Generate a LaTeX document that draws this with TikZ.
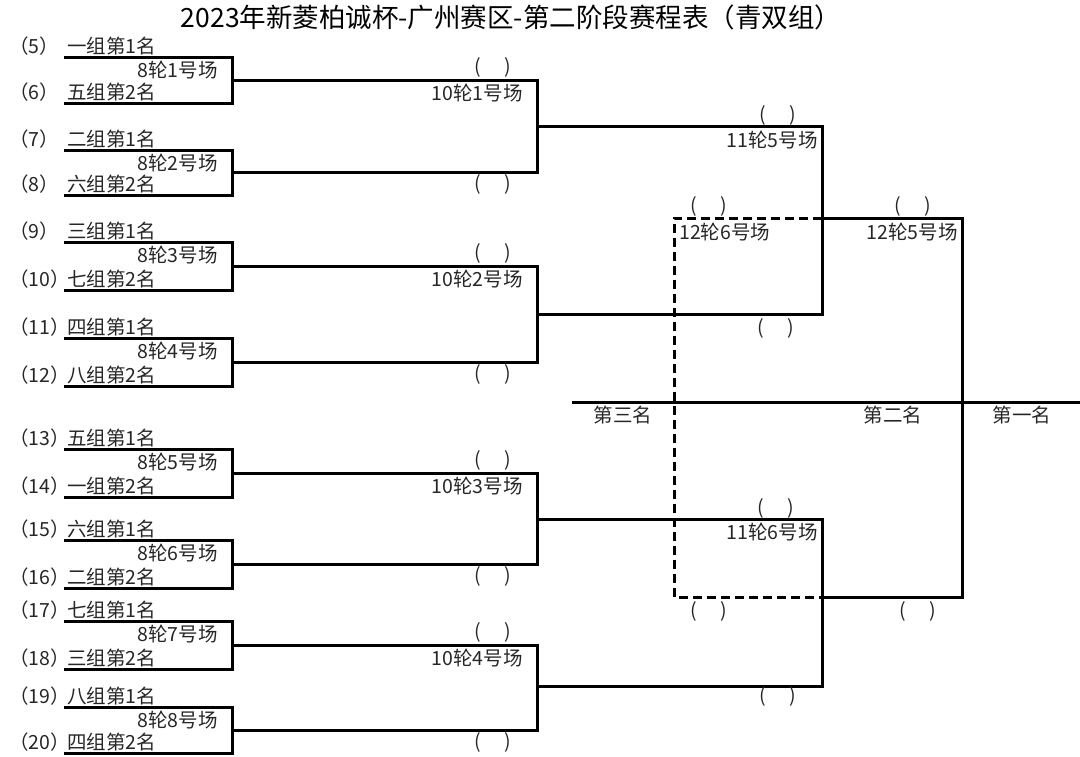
\documentclass[tikz,border=0pt]{standalone}
\usepackage{fontspec}
\setmainfont{Noto Sans CJK SC}
\begin{document}
\begin{tikzpicture}[x=1pt,y=-1pt,
  br/.style={line width=3pt,line join=miter,line cap=rect},
  dsh/.style={line width=3pt,dash pattern=on 9pt off 5pt},
  lab/.style={inner sep=0pt,font=\fontsize{19.5}{20}\selectfont,text=black!85},
  seedlab/.style={lab,anchor=west},
  namelab/.style={lab,anchor=west},
  par/.style={lab}]
\useasboundingbox (0,0) rectangle (1080,756);
\node[inner sep=0pt,font=\fontsize{26.5}{27}\selectfont] (title) at (511,17) {2023年新菱柏诚杯-广州赛区-第二阶段赛程表（青双组）};
% round 8 brackets
\foreach \i/\yt/\yb/\sa/\na/\sb/\nb in {
 1/57/103/5/一组第1名/6/五组第2名,
 2/150/195/7/二组第1名/8/六组第2名,
 3/242/290/9/三组第1名/10/七组第2名,
 4/338/386/11/四组第1名/12/八组第2名,
 5/449/497/13/五组第1名/14/一组第2名,
 6/540/588/15/六组第1名/16/二组第2名,
 7/621/669/17/七组第1名/18/三组第2名,
 8/707/753/19/八组第1名/20/四组第2名}{
  \coordinate (pa\i) at (65,\yt);
  \coordinate (pb\i) at (65,\yb);
  \coordinate (pc\i) at (232,\yt);
  \coordinate (pd\i) at (232,\yb);
  \draw[br] (pa\i) -- (pc\i) -- (pd\i) -- (pb\i);
  \node[seedlab] (s\sa) at (9,\yt-11) {（{\sa}）};
  \node[namelab] (n\sa) at (67,\yt-11) {\na};
  \node[seedlab] (s\sb) at (9,\yb-11) {（{\sb}）};
  \node[namelab] (n\sb) at (67,\yb-11) {\nb};
  \node[lab,anchor=east] (g8\i) at (218,\yt+13) {8轮{\i}号场};
}
% round 10
\foreach \j/\ya/\yb in {1/80/172,2/266/362,3/473/564,4/645/730}{
  \coordinate (ma\j) at (232,\ya);
  \coordinate (mb\j) at (232,\yb);
  \coordinate (ra\j) at (537,\ya);
  \coordinate (rb\j) at (537,\yb);
  \draw[br] (ma\j) -- (ra\j) -- (rb\j) -- (mb\j);
  \node[lab,anchor=east] (g10\j) at (523,\ya+13) {10轮{\j}号场};
  \node[par] (qa\j) at (493,\ya-13) {(\hspace{24pt})};
  \node[par] (qb\j) at (493,\yb+12) {(\hspace{24pt})};
}
% round 11
\coordinate (u1) at (537,126);
\coordinate (u2) at (537,314);
\coordinate (u3) at (537,519);
\coordinate (u4) at (537,686);
\coordinate (v1) at (822,126);
\coordinate (v2) at (822,314);
\coordinate (v3) at (822,519);
\coordinate (v4) at (822,686);
\draw[br] (u1) -- (v1) -- (v2) -- (u2);
\draw[br] (u3) -- (v3) -- (v4) -- (u4);
\node[lab,anchor=east] (g115) at (818,140) {11轮5号场};
\node[par] (q51) at (778,115) {(\hspace{24pt})};
\node[par] (q52) at (776,328) {(\hspace{24pt})};
\node[lab,anchor=east] (g116) at (818,532) {11轮6号场};
\node[par] (q61) at (776,508) {(\hspace{24pt})};
\node[par] (q62) at (778,696) {(\hspace{24pt})};
% round 12
\coordinate (w1) at (822,218);
\coordinate (w2) at (822,597);
\coordinate (x1) at (962,218);
\coordinate (x2) at (962,597);
\coordinate (z1) at (674,218);
\coordinate (z2) at (674,597);
\draw[br] (w1) -- (x1) -- (x2) -- (w2);
\draw[dsh] (w1) -- (z1) -- (z2) -- (w2);
\node[lab,anchor=east] (g125) at (958,232) {12轮5号场};
\node[lab,anchor=west] (g126) at (679,232) {12轮6号场};
\node[par] (q71) at (913,206) {(\hspace{24pt})};
\node[par] (q72) at (918,611) {(\hspace{24pt})};
\node[par] (q81) at (709,206) {(\hspace{24pt})};
\node[par] (q82) at (709,611) {(\hspace{24pt})};
% placings line
\coordinate (h1) at (572,402);
\coordinate (h2) at (1080,402);
\draw[br,line cap=butt] (h1) -- (h2);
\node[lab] (r3) at (623,415) {第三名};
\node[lab] (r2) at (893,415) {第二名};
\node[lab] (r1) at (1022,415) {第一名};
\end{tikzpicture}
\end{document}
